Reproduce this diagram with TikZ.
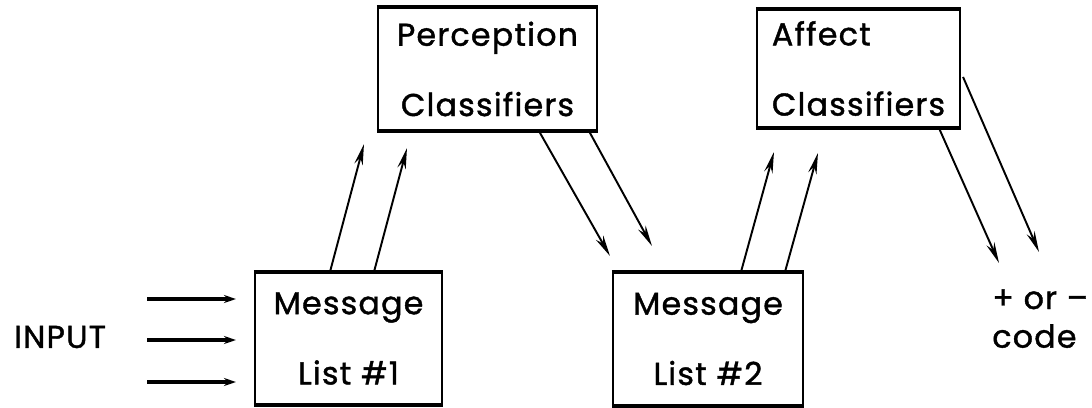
\documentclass[tikz,border=0pt]{standalone}
\usepackage{fontspec}
\setmainfont{Poppins}[LetterSpace=4, FakeBold=1.3]
\usepackage{tikz}
\usetikzlibrary{arrows.meta}
\usetikzlibrary{calc}
\tikzset{
  lbl/.style={font=\fontsize{18pt}{22pt}\selectfont, inner sep=0pt},
  listbox/.style={draw, line width=1.2pt, inner sep=0pt, lbl, align=center},
  flow/.style={line width=1.1pt, -{Stealth[length=4.2mm,width=1.7mm]}},
  feed/.style={line width=2.2pt, -{Stealth[length=2.4mm,width=1.6mm]}}
}

\begin{document}
\begin{tikzpicture}[x=0.02cm, y=-0.02cm]
\useasboundingbox (0,0) rectangle (1092,407);
% boxes
\node[listbox, minimum width=3.74cm, minimum height=2.62cm] (list1) at (348.5,338.5)
  {Message\\[18pt]List \#1};
\node[listbox, minimum width=3.8cm, minimum height=2.64cm] (list2) at (708,339)
  {Message\\[18pt]List \#2};
\node[listbox, minimum width=4.38cm, minimum height=2.44cm] (perc) at (487.5,69)
  {Perception\\[18pt]Classifiers};
\node[listbox, minimum width=4.06cm, minimum height=2.34cm, align=left] (affect) at (858.5,68.5)
  {Affect\\[18pt]Classifiers};
\foreach \b in {list1,list2,perc,affect} {
 \draw[line width=2.2pt] (\b.north west) -- (\b.north east);
 \draw[line width=1.8pt] (\b.south west) -- (\b.south east);
}
% labels
\node[lbl] (input) at (60,337) {INPUT};
\node[lbl, anchor=north west, align=left] (sign) at (992,289) {+ or --\\code};
% input lines
\foreach \y/\n in {299/1,340/2,382/3} {
 \coordinate (in\n) at (147,\y);
 \draw[feed, shorten >=0.36cm] (in\n) -- (list1.west |- in\n);
}
% messages up to perception, then down to list 2
\draw[flow] ([shift={(76,0)}]list1.north west) -- ([shift={(-13,13)}]perc.south west);
\draw[flow] ([shift={(120,0)}]list1.north west) -- ([shift={(30,17)}]perc.south west);
\draw[flow] ([shift={(162,0)}]perc.south west) -- ([shift={(-2,-16)}]list2.north west);
\draw[flow] ([shift={(212,0)}]perc.south west) -- ([shift={(40,-26)}]list2.north west);
% list 2 up to affect, then out to the code
\draw[flow] ([shift={(129,0)}]list2.north west) -- ([shift={(18,24)}]affect.south west);
\draw[flow] ([shift={(173,0)}]list2.north west) -- ([shift={(62,25)}]affect.south west);
\coordinate (out1) at ([shift={(7,-26)}]sign.north west);
\coordinate (out2) at ([shift={(47,-37)}]sign.north west);
\draw[flow] ([shift={(183,0)}]affect.south west) -- (out1);
\draw[flow] ([shift={(2,68)}]affect.north east) -- (out2);
\end{tikzpicture}
\end{document}
